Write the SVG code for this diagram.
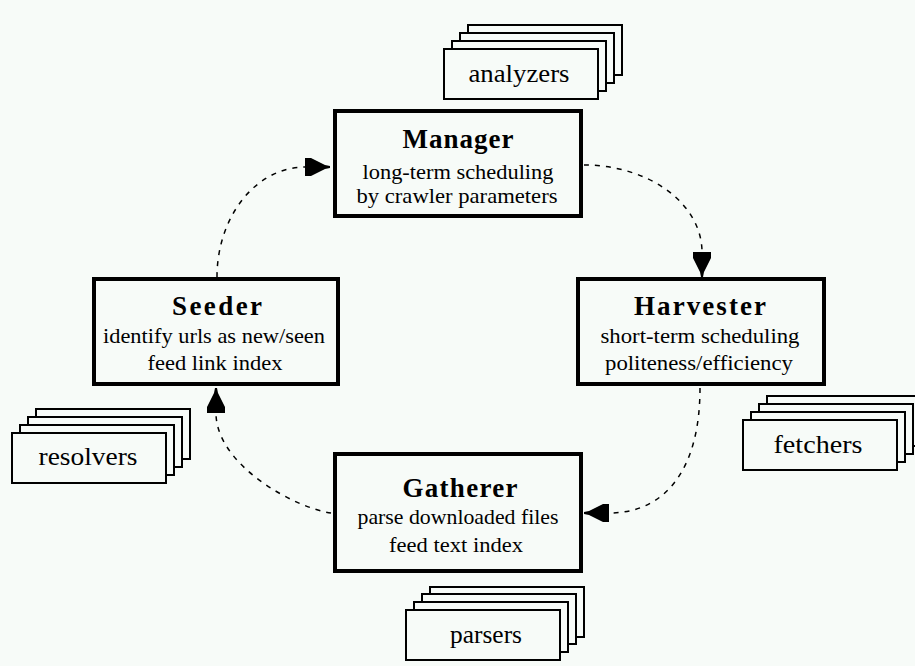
<svg xmlns="http://www.w3.org/2000/svg" width="915" height="666" viewBox="0 0 915 666">
<style>
.bg{fill:#f7fbf8}
.node{fill:#f7fbf8;stroke:#000;stroke-width:4}
.stk{fill:#f7fbf8;stroke:#000;stroke-width:2}
.title{font-family:"Liberation Serif","Times New Roman",serif;font-weight:bold;font-size:27px;fill:#000;text-anchor:middle}
.sub{font-family:"Liberation Serif","Times New Roman",serif;font-size:22px;fill:#000;text-anchor:middle}
.lab{font-family:"Liberation Serif","Times New Roman",serif;font-size:26px;fill:#000;text-anchor:middle}
.conn{fill:none;stroke:#000;stroke-width:1.5;stroke-dasharray:5 6}
</style>
<defs>
<marker id="ah" markerUnits="userSpaceOnUse" viewBox="0 -10 26 20" refX="0" refY="0" markerWidth="26" markerHeight="20" orient="auto">
<path d="M0,-9 L6,-9 L20,-2 L25,-1 L25,1 L20,2 L6,9 L0,9 Z" fill="#000"/>
</marker>
</defs>
<rect class="bg" x="0" y="0" width="915" height="666"/>

<g id="connectors">
<path class="conn" d="M584,165 A118,87 0 0 1 702,252" marker-end="url(#ah)"/>
<path class="conn" d="M700,388 C700,470 665,513 609,513" marker-end="url(#ah)"/>
<path class="conn" d="M331,513 C295,508 216,465 216,413" marker-end="url(#ah)"/>
<path class="conn" d="M217,277 A88,110 0 0 1 305,167" marker-end="url(#ah)"/>
</g>

<g id="analyzers">
<rect class="stk" x="468" y="25" width="154" height="50"/>
<rect class="stk" x="460" y="33" width="154" height="50"/>
<rect class="stk" x="452" y="41" width="154" height="50"/>
<rect class="stk" x="444" y="49" width="154" height="50"/>
<text class="lab" x="519" y="82" textLength="101" lengthAdjust="spacingAndGlyphs">analyzers</text>
</g>

<g id="manager">
<rect class="node" x="335" y="111" width="246" height="105"/>
<text class="title" x="458" y="148" textLength="111">Manager</text>
<text class="sub" x="458" y="179" textLength="191" lengthAdjust="spacingAndGlyphs">long-term scheduling</text>
<text class="sub" x="457" y="203" textLength="201" lengthAdjust="spacingAndGlyphs">by crawler parameters</text>
</g>

<g id="harvester">
<rect class="node" x="578" y="279" width="246" height="105"/>
<text class="title" x="700" y="315" textLength="132">Harvester</text>
<text class="sub" x="700" y="343" textLength="199" lengthAdjust="spacingAndGlyphs">short-term scheduling</text>
<text class="sub" x="699" y="370" textLength="188" lengthAdjust="spacingAndGlyphs">politeness/efficiency</text>
</g>

<g id="fetchers">
<rect class="stk" x="767" y="396" width="154" height="50"/>
<rect class="stk" x="759" y="404" width="154" height="50"/>
<rect class="stk" x="751" y="412" width="154" height="50"/>
<rect class="stk" x="743" y="420" width="154" height="50"/>
<text class="lab" x="818" y="453" textLength="89" lengthAdjust="spacingAndGlyphs">fetchers</text>
</g>

<g id="seeder">
<rect class="node" x="94" y="279" width="244" height="105"/>
<text class="title" x="217" y="315" textLength="90">Seeder</text>
<text class="sub" x="214" y="343" textLength="222" lengthAdjust="spacingAndGlyphs">identify urls as new/seen</text>
<text class="sub" x="215" y="370" textLength="135" lengthAdjust="spacingAndGlyphs">feed link index</text>
</g>

<g id="resolvers">
<rect class="stk" x="36" y="409" width="154" height="50"/>
<rect class="stk" x="28" y="417" width="154" height="50"/>
<rect class="stk" x="20" y="425" width="154" height="50"/>
<rect class="stk" x="12" y="433" width="154" height="50"/>
<text class="lab" x="88" y="465" textLength="99" lengthAdjust="spacingAndGlyphs">resolvers</text>
</g>

<g id="gatherer">
<rect class="node" x="335" y="454" width="246" height="117"/>
<text class="title" x="460" y="497" textLength="115">Gatherer</text>
<text class="sub" x="458" y="524" textLength="201" lengthAdjust="spacingAndGlyphs">parse downloaded files</text>
<text class="sub" x="456" y="552" textLength="134" lengthAdjust="spacingAndGlyphs">feed text index</text>
</g>

<g id="parsers">
<rect class="stk" x="430" y="587" width="154" height="50"/>
<rect class="stk" x="422" y="594" width="154" height="50"/>
<rect class="stk" x="414" y="602" width="154" height="50"/>
<rect class="stk" x="406" y="610" width="154" height="50"/>
<text class="lab" x="486" y="643" textLength="72" lengthAdjust="spacingAndGlyphs">parsers</text>
</g>
</svg>
